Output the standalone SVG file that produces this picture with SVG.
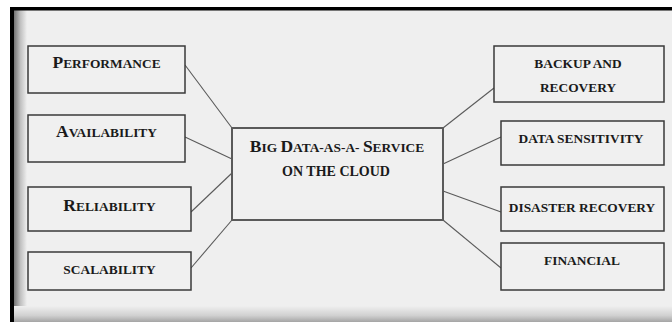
<svg xmlns="http://www.w3.org/2000/svg" width="672" height="322" viewBox="0 0 672 322">
  <defs>
    <linearGradient id="shadeLeft" x1="0" y1="0" x2="1" y2="0">
      <stop offset="0" stop-color="#737373"/>
      <stop offset="0.5" stop-color="#c0c0c0"/>
      <stop offset="1" stop-color="#efefef"/>
    </linearGradient>
    <linearGradient id="shadeBottom" x1="0" y1="0" x2="0" y2="1">
      <stop offset="0" stop-color="#efefef"/>
      <stop offset="0.6" stop-color="#d0d0d0"/>
      <stop offset="1" stop-color="#a4a4a4"/>
    </linearGradient>
    <style>
      .box { fill: #f0f0f0; stroke: #3a3a3a; stroke-width: 1.5; }
      .hub { fill: #f0f0f0; stroke: #5a5a5a; stroke-width: 2; }
      .link { stroke: #5a5a5a; stroke-width: 1.1; fill: none; }
      .lbl { font-family: "Liberation Serif", "Times New Roman", serif; font-size: 13.4px; font-weight: bold; fill: #1a1a1a; text-anchor: middle; }
      .cap { font-size: 17.5px; }
    </style>
  </defs>

  <!-- page and frame -->
  <rect x="0" y="0" width="672" height="322" fill="#ffffff"/>
  <rect x="10" y="7" width="662" height="315" fill="#efefef"/>
  <rect x="14" y="10" width="13" height="312" fill="url(#shadeLeft)"/>
  <rect x="14" y="306" width="658" height="16" fill="url(#shadeBottom)"/>
  <rect x="10" y="7" width="662" height="3.5" fill="#000000"/>
  <rect x="10" y="7" width="4" height="315" fill="#000000"/>

  <!-- connectors -->
  <g id="connectors">
    <line class="link" x1="185" y1="65" x2="232" y2="128"/>
    <line class="link" x1="185" y1="137" x2="232" y2="159"/>
    <line class="link" x1="191" y1="212" x2="232" y2="173"/>
    <line class="link" x1="191" y1="268" x2="232" y2="220"/>
    <line class="link" x1="443" y1="128" x2="494" y2="88"/>
    <line class="link" x1="443" y1="164" x2="501" y2="137"/>
    <line class="link" x1="443" y1="191" x2="501" y2="212"/>
    <line class="link" x1="443" y1="220" x2="501" y2="268"/>
  </g>

  <!-- left column -->
  <g id="performance">
    <rect class="box" x="28" y="46" width="157" height="47"/>
    <text class="lbl" x="106.5" y="68"><tspan class="cap">P</tspan>ERFORMANCE</text>
  </g>
  <g id="availability">
    <rect class="box" x="28" y="115" width="157" height="47"/>
    <text class="lbl" x="106.5" y="137"><tspan class="cap">A</tspan>VAILABILITY</text>
  </g>
  <g id="reliability">
    <rect class="box" x="28" y="187" width="163" height="44"/>
    <text class="lbl" x="109.5" y="211"><tspan class="cap">R</tspan>ELIABILITY</text>
  </g>
  <g id="scalability">
    <rect class="box" x="28" y="252" width="163" height="38"/>
    <text class="lbl" x="109.5" y="274">SCALABILITY</text>
  </g>

  <!-- hub -->
  <g id="big-data-service">
    <rect class="hub" x="232" y="128" width="211" height="92"/>
    <text class="lbl" x="337" y="152"><tspan class="cap">B</tspan>IG <tspan class="cap">D</tspan>ATA-AS-A- <tspan class="cap">S</tspan>ERVICE</text>
    <text class="lbl" x="336" y="176" style="font-size:14px">ON THE CLOUD</text>
  </g>

  <!-- right column -->
  <g id="backup-recovery">
    <rect class="box" x="494" y="46" width="170" height="56"/>
    <text class="lbl" x="578" y="68">BACKUP AND</text>
    <text class="lbl" x="578" y="92">RECOVERY</text>
  </g>
  <g id="data-sensitivity">
    <rect class="box" x="501" y="121" width="163" height="44"/>
    <text class="lbl" x="581" y="143">DATA SENSITIVITY</text>
  </g>
  <g id="disaster-recovery">
    <rect class="box" x="501" y="187" width="163" height="44"/>
    <text class="lbl" x="582" y="212">DISASTER RECOVERY</text>
  </g>
  <g id="financial">
    <rect class="box" x="501" y="243" width="163" height="47"/>
    <text class="lbl" x="582" y="265">FINANCIAL</text>
  </g>
</svg>
